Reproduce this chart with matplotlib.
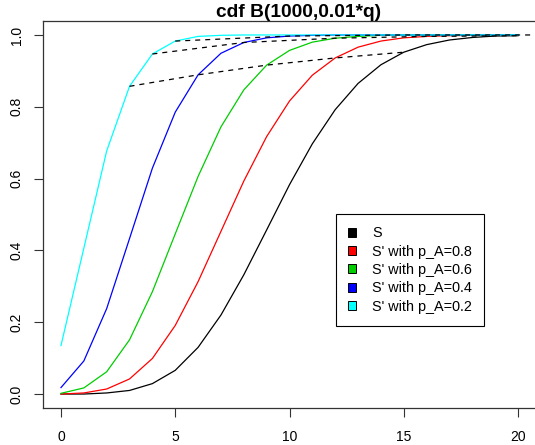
import matplotlib
matplotlib.use("Agg")
import matplotlib.pyplot as plt
from matplotlib.patches import Patch

plt.rcParams['font.family'] = ['Liberation Sans', 'DejaVu Sans']

# values: cdf at q = 0..20
q = list(range(21))
cdf_S = [0.000, 0.000, 0.003, 0.010, 0.029, 0.066, 0.130, 0.220, 0.332, 0.457, 0.583,
         0.697, 0.792, 0.865, 0.917, 0.952, 0.973, 0.986, 0.993, 0.997, 0.998]
cdf_08 = [0.000, 0.003, 0.014, 0.042, 0.099, 0.191, 0.313, 0.453, 0.593, 0.717, 0.816,
          0.888, 0.936, 0.966, 0.983, 0.992, 0.996, 0.998, 0.999, 1.000, 1.000]
cdf_06 = [0.002, 0.017, 0.062, 0.151, 0.285, 0.446, 0.606, 0.744, 0.847, 0.916, 0.957,
          0.980, 0.991, 0.996, 0.999, 1.000, 1.000, 1.000, 1.000, 1.000, 1.000]
cdf_04 = [0.018, 0.092, 0.238, 0.433, 0.629, 0.785, 0.889, 0.949, 0.979, 0.992, 0.997,
          0.999, 1.000, 1.000, 1.000, 1.000, 1.000, 1.000, 1.000, 1.000, 1.000]
cdf_02 = [0.135, 0.406, 0.677, 0.857, 0.947, 0.983, 0.996, 0.999, 1.000, 1.000, 1.000,
          1.000, 1.000, 1.000, 1.000, 1.000, 1.000, 1.000, 1.000, 1.000, 1.000]

labels = ["S", "S' with p_A=0.8", "S' with p_A=0.6", "S' with p_A=0.4", "S' with p_A=0.2"]
colors = ["black", "#ff0000", "#00cd00", "#0000ff", "#00ffff"]

# dashed connectors (cyan -> blue -> green -> red -> black)
dash_x = [[3, 6, 9, 12, 15], [4, 8, 12, 16, 20], [5, 10, 15, 20, 25]]
dash_y = [[0.857, 0.889, 0.916, 0.936, 0.952],
          [0.947, 0.979, 0.991, 0.996, 0.998],
          [0.983, 0.997, 1.000, 1.000, 1.000]]

fig = plt.figure(figsize=(5.35, 4.45), dpi=100)
ax = fig.add_axes([42.7 / 535, 1 - 408.4 / 445, 493.6 / 535, 387.8 / 445])

for ys, c in zip([cdf_S, cdf_08, cdf_06, cdf_04, cdf_02], colors):
    ax.plot(q, ys, color=c, lw=0.9)
for xs, ys in zip(dash_x, dash_y):
    ax.plot(xs, ys, color="black", lw=0.9, linestyle=(0, (4, 4)))

ax.set_xlim(-0.8, 20.8)
ax.set_ylim(-0.04, 1.04)
ax.set_xticks([0, 5, 10, 15, 20])
ax.set_yticks([0.0, 0.2, 0.4, 0.6, 0.8, 1.0])
ax.set_yticklabels(["0.0", "0.2", "0.4", "0.6", "0.8", "1.0"], rotation=90, va="center")
ax.tick_params(direction="out", length=6.8, width=0.8, labelsize=10, color="#333333")
ax.tick_params(axis="x", pad=8.5)
ax.tick_params(axis="y", pad=7)
for s in ax.spines.values():
    s.set_color("#333333")
    s.set_linewidth(0.9)

ax.set_title("cdf B(1000,0.01*q)", fontsize=13.8, fontweight="bold", x=0.519, pad=0)

handles = [Patch(facecolor=c, edgecolor="black", linewidth=0.7) for c in colors]
leg = ax.legend(handles, labels, loc="upper left", bbox_to_anchor=(336 / 535, 1 - 214 / 445),
                bbox_transform=fig.transFigure, fontsize=10.4, frameon=True, fancybox=False,
                framealpha=1, edgecolor="black", borderpad=0.85, handlelength=0.55,
                handleheight=0.55, handletextpad=1.1, labelspacing=0.3, borderaxespad=0)
leg.get_frame().set_linewidth(0.8)

fig.savefig("out.png", dpi=100, facecolor="white")
